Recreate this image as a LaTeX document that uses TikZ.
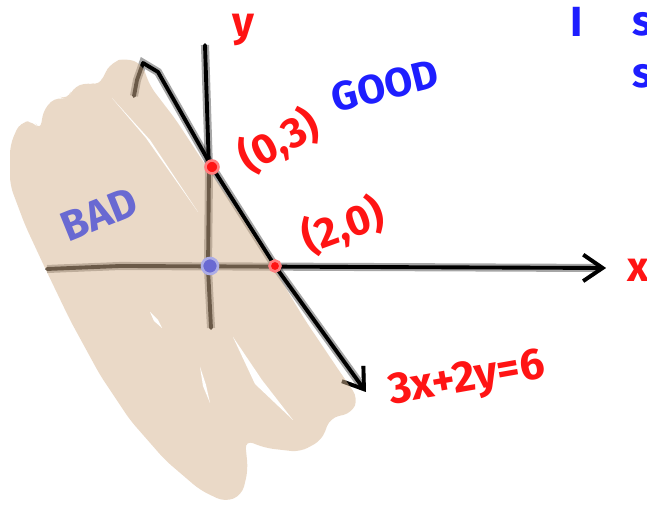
\documentclass[tikz,border=0pt]{standalone}
\usepackage{fontspec}
\setmainfont{Fira Sans}
\usetikzlibrary{arrows.meta}
\definecolor{penred}{RGB}{255,20,20}
\definecolor{penblue}{RGB}{30,30,255}
\definecolor{penpurple}{RGB}{105,105,210}
\definecolor{shadetan}{RGB}{214,180,144}

\begin{document}
\begin{tikzpicture}[
  x=0.02cm, y=-0.02cm,
  every node/.style={font=\fontsize{24}{24}\selectfont\bfseries, inner sep=0pt},
  ink/.style={line width=2.2pt, line cap=round, line join=round,
    preaction={draw, line width=4.6pt, opacity=0.35}},
  tip/.style={-{Straight Barb[length=11pt, width=15pt, line width=2.2pt]}},
  lbl/.style={text=penred},
  dot/.style={circle, fill=#1, draw=#1!55, line width=1.5pt, minimum size=0.26cm},
  gap/.style={fill=white, draw=none},
]
\useasboundingbox (0,0) rectangle (647,506);
\clip (0,0) rectangle (647,506);

% axes
\coordinate (xl) at (47,269);
\coordinate (xr) at (606,268);
\coordinate (yt) at (205,45);
\coordinate (yb) at (211,328);
\draw[ink, tip] (xl) -- (120,266) -- (xr);
\draw[ink] (yt) -- (209,170) -- (208,268) -- (yb);

% the line 3x+2y=6
\coordinate (hk) at (134,96);
\coordinate (hktop) at (143,63);
\coordinate (p03) at (212,167);
\coordinate (p20) at (275,266);
\coordinate (le) at (366,392);
\draw[ink, tip] (hk) -- (137,80) -- (hktop) -- (158,72) -- (p03) -- (p20) -- (le);

% scribbled region
\fill[shadetan, opacity=0.5, rounded corners=5pt]
  (112,62) -- (126,58) -- (142,64) -- (150,86) -- (176,120) -- (206,166)
  -- (240,215) -- (270,262) -- (305,320) -- (340,372) -- (358,398)
  -- (352,413) -- (330,418) -- (322,440) -- (300,452) -- (265,448)
  -- (245,440) -- (248,470) -- (242,495) -- (225,502) -- (200,490)
  -- (165,460) -- (130,420) -- (100,375) -- (70,320) -- (45,268)
  -- (25,225) -- (10,185) -- (10,145) -- (20,122) -- (34,121)
  -- (40,131) -- (44,108) -- (58,96) -- (68,100) -- (72,88)
  -- (88,82) -- (100,86) -- (103,76) -- cycle;
\fill[gap] (112,98) -- (150,140) -- (198,212) -- (146,138) -- cycle;
\fill[gap] (233,337) -- (262,380) -- (293,420) -- (255,384) -- cycle;
\fill[gap] (200,367) -- (206,385) -- (210,403) -- (203,386) -- cycle;
\fill[gap] (150,312) -- (158,320) -- (162,328) -- (154,321) -- cycle;

% points
\node[dot=penred] (d03) at (p03) {};
\node[dot=penred, minimum size=0.22cm] (d20) at (p20) {};
\node[dot=penpurple, minimum size=0.32cm] (d00) at (210,266) {};

% labels
\node[lbl] (ylab) at (243,30) {y};
\node[lbl] (xlab) at (638,270) {x};
\node[lbl, rotate=28] (l03) at (279,141) {(0,3)};
\node[lbl, rotate=20] (l20) at (343,226) {(2,0)};
\node[lbl, font=\fontsize{25}{25}\selectfont\bfseries, rotate=10] (leq) at (467,381) {3x+2y=6};
\node[text=penblue, font=\fontsize{23}{23}\selectfont\bfseries, rotate=14] (good) at (385,86) {GOOD};
\node[text=penpurple, font=\fontsize{24}{24}\selectfont\bfseries, rotate=22] (bad) at (99,214) {BAD};
\node[text=penblue] (iword) at (577,22) {I};
\node[text=penblue, anchor=west] (s1) at (632,24) {s};
\node[text=penblue, anchor=west] (s2) at (632,76) {s};
\end{tikzpicture}
\end{document}
